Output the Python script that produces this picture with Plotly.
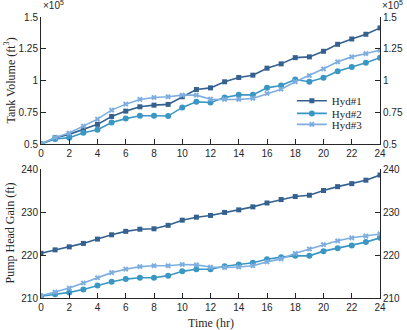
import plotly.graph_objects as go

# hours
hours = list(range(25))

# tank volume, in units of 1e5 ft^3
vol_hyd1 = [0.50, 0.55, 0.576, 0.618, 0.655, 0.717, 0.759, 0.793, 0.806, 0.812, 0.872, 0.929, 0.942,
            0.99, 1.024, 1.042, 1.097, 1.131, 1.18, 1.186, 1.23, 1.285, 1.327, 1.364, 1.414]
vol_hyd2 = [0.50, 0.539, 0.55, 0.589, 0.613, 0.67, 0.70, 0.722, 0.722, 0.72, 0.788, 0.832, 0.827,
            0.866, 0.887, 0.887, 0.942, 0.96, 1.008, 0.99, 1.021, 1.073, 1.107, 1.139, 1.18]
vol_hyd3 = [0.50, 0.552, 0.586, 0.641, 0.696, 0.767, 0.814, 0.851, 0.866, 0.872, 0.885, 0.885, 0.853,
            0.851, 0.851, 0.859, 0.898, 0.932, 0.99, 1.039, 1.092, 1.147, 1.186, 1.212, 1.238]

# pump head gain (ft)
head_hyd1 = [220.4, 221.2, 221.9, 222.7, 223.7, 224.7, 225.5, 226.0, 226.1, 226.9, 228.1, 228.8, 229.2,
             229.9, 230.5, 231.2, 232.1, 232.9, 233.6, 233.9, 235.0, 235.9, 236.6, 237.4, 238.6]
head_hyd2 = [210.4, 210.9, 211.3, 212.0, 212.9, 213.8, 214.4, 214.7, 214.7, 215.2, 216.2, 216.7, 216.7,
             217.4, 217.8, 218.2, 219.0, 219.5, 219.8, 219.8, 220.9, 221.6, 222.2, 223.0, 224.0]
head_hyd3 = [210.5, 211.4, 212.3, 213.5, 214.7, 215.9, 216.7, 217.3, 217.5, 217.5, 217.8, 217.7, 217.2,
             217.1, 217.2, 217.5, 218.4, 219.1, 220.4, 221.4, 222.4, 223.3, 224.0, 224.4, 224.9]

series_names = ["Hyd#1", "Hyd#2", "Hyd#3"]
vol_ticks = [0.5, 0.75, 1.0, 1.25, 1.5]
vol_ticktext = ["0.5", "0.75", "1", "1.25", "1.5"]
head_ticks = [210, 220, 230, 240]
x_ticks = list(range(0, 25, 2))

COLORS = ["#34618f", "#3a97c4", "#7eaee0"]
SYMBOLS = ["square", "circle", "x"]
SIZES = [5, 6, 5]
AX = "#262626"
SANS = "Liberation Sans, Arial, sans-serif"
SERIF = "Liberation Serif, DejaVu Serif, serif"

fig = go.Figure()

vols = [vol_hyd1, vol_hyd2, vol_hyd3]
heads = [head_hyd1, head_hyd2, head_hyd3]
legend_ids = ["legend", "legend2", "legend3"]

for i in range(3):
    fig.add_trace(go.Scatter(
        x=hours, y=vols[i], mode="lines+markers", name=series_names[i],
        line=dict(color=COLORS[i], width=1.6),
        marker=dict(symbol=SYMBOLS[i], size=SIZES[i], color=COLORS[i]),
        xaxis="x", yaxis="y", legend=legend_ids[i],
    ))
    fig.add_trace(go.Scatter(
        x=hours, y=heads[i], mode="lines+markers", name=series_names[i],
        line=dict(color=COLORS[i], width=1.6),
        marker=dict(symbol=SYMBOLS[i], size=SIZES[i], color=COLORS[i]),
        xaxis="x2", yaxis="y2", showlegend=False,
    ))

# invisible copies so the right-hand axes get drawn
fig.add_trace(go.Scatter(x=hours, y=vol_hyd1, mode="lines", opacity=0, xaxis="x", yaxis="y3",
                         showlegend=False, hoverinfo="skip"))
fig.add_trace(go.Scatter(x=hours, y=head_hyd1, mode="lines", opacity=0, xaxis="x2", yaxis="y4",
                         showlegend=False, hoverinfo="skip"))

common_x = dict(
    range=[0, 24], tickvals=x_ticks, showline=True, linecolor=AX, linewidth=1,
    ticks="inside", ticklen=5, tickcolor=AX, showgrid=False, zeroline=False, automargin=False,
    tickfont=dict(family=SANS, size=10, color=AX),
)
common_y = dict(
    showline=True, linecolor=AX, linewidth=1, ticks="inside", ticklen=5,
    tickcolor=AX, showgrid=False, zeroline=False, automargin=False,
    tickfont=dict(family=SANS, size=10, color=AX),
)

top_dom = [0.548, 1.0]
bot_dom = [0.0, 0.459]

leg_common = dict(xanchor="left", yanchor="middle", bgcolor="rgba(0,0,0,0)",
                  font=dict(family=SERIF, size=11, color=AX), itemwidth=30)
title_font = dict(family=SERIF, size=12, color=AX)

fig.update_layout(
    width=407, height=330,
    margin=dict(l=41, r=27, t=17, b=32),
    paper_bgcolor="white", plot_bgcolor="white",
    xaxis=dict(**common_x, domain=[0, 1], anchor="y"),
    xaxis2=dict(**common_x, domain=[0, 1], anchor="y2"),
    yaxis=dict(**common_y, domain=top_dom, anchor="x", range=[0.5, 1.5],
               tickvals=vol_ticks, ticktext=vol_ticktext),
    yaxis3=dict(**common_y, domain=top_dom, anchor="x", overlaying="y", side="right",
                range=[0.5, 1.5], tickvals=vol_ticks, ticktext=vol_ticktext),
    yaxis2=dict(**common_y, domain=bot_dom, anchor="x2", range=[210, 240], tickvals=head_ticks),
    yaxis4=dict(**common_y, domain=bot_dom, anchor="x2", overlaying="y2", side="right",
                range=[210, 240], tickvals=head_ticks),
    legend=dict(**leg_common, x=0.74, y=0.702),
    legend2=dict(**leg_common, x=0.74, y=0.657),
    legend3=dict(**leg_common, x=0.74, y=0.618),
    annotations=[
        dict(text="×10<sup>5</sup>", xref="paper", yref="paper", x=0.0, y=1.0, xanchor="left",
             yanchor="bottom", showarrow=False, font=dict(family=SANS, size=10, color=AX), yshift=4),
        dict(text="×10<sup>5</sup>", xref="paper", yref="paper", x=1.0, y=1.0, xanchor="left",
             yanchor="bottom", showarrow=False, font=dict(family=SANS, size=10, color=AX), yshift=4),
        dict(text="Time (hr)", xref="paper", yref="paper", x=0.5, y=0.0, xanchor="center",
             yanchor="top", yshift=-16, showarrow=False, font=title_font),
        dict(text="Tank Volume (ft<sup>3</sup>)", xref="paper", yref="paper", x=0.0,
             y=(top_dom[0] + top_dom[1]) / 2, xshift=-31, xanchor="center", yanchor="middle",
             textangle=-90, showarrow=False, font=title_font),
        dict(text="Pump Head Gain (ft)", xref="paper", yref="paper", x=0.0,
             y=(bot_dom[0] + bot_dom[1]) / 2, xshift=-31, xanchor="center", yanchor="middle",
             textangle=-90, showarrow=False, font=title_font),
    ],
)

# drop the page's default body margin so the figure sits at the window's corner
fig.write_html("out.html", config={"displayModeBar": False},
               post_script="document.body.style.margin='0';")
